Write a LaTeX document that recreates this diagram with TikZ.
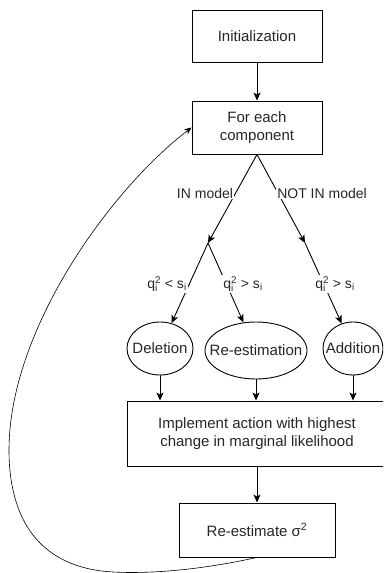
\documentclass[tikz,border=0pt]{standalone}
\usepackage{fontspec}
\setmainfont{Liberation Sans}
\usetikzlibrary{arrows.meta,shapes.geometric}
\newcommand{\nodefnt}{\fontsize{15}{18.5}\selectfont}
\newcommand{\lblfnt}{\fontsize{14}{17}\selectfont}
\newcommand{\qsq}{$\mathrm{q}_{\mathrm{i}}^{\mathrm{2}}$}
\begin{document}
\begin{tikzpicture}[x=1pt,y=-1pt,
  boxnode/.style={draw=black, line width=0.9pt, rectangle, align=center, inner sep=0pt, font=\nodefnt, text=black!85},
  ellnode/.style={draw=black, line width=0.9pt, ellipse, inner sep=0pt},
  ellabel/.style={font=\nodefnt, text=black!85, inner sep=0pt},
  arr/.style={-{Stealth[length=8pt,width=7pt,inset=2pt]}, line width=0.9pt},
  looparr/.style={-{Stealth[length=7pt,width=6pt,inset=2pt]}, line width=0.6pt},
  lbl/.style={fill=white, inner sep=1pt, font=\lblfnt, text=black!85}]
\clip (0,0) rectangle (383,573);
\node[boxnode, minimum width=130pt, minimum height=52pt] (init) at (257,36) {Initialization};
\node[boxnode, minimum width=130pt, minimum height=53pt] (each) at (257,127.5) {For each\\component};
\coordinate (jL) at (208,243);
\coordinate (jR) at (305,243);
\node[ellnode, minimum width=66pt, minimum height=53pt, label={[ellabel]center:Deletion}] (del) at (160,348.5) {};
\node[ellnode, minimum width=102pt, minimum height=57pt, label={[ellabel]center:Re-estimation}] (rest) at (256,350.5) {};
\node[ellnode, minimum width=60pt, minimum height=53pt, label={[ellabel]center:Addition}] (add) at (353,348.5) {};
\node[boxnode, minimum width=260pt, minimum height=65pt] (impl) at (257,433.5) {Implement action with highest\\change in marginal likelihood};
\node[boxnode, minimum width=156pt, minimum height=54pt] (sig) at (257,530) {Re-estimate σ\textsuperscript{2}};

\draw[arr] (init) -- (each);
\draw[arr] (each.south) -- (jL);
\draw[arr] (each.south) -- (jR);
\draw[arr] (jL) -- (del);
\draw[arr] (jL) -- (rest);
\draw[arr] (jR) -- (add);
\draw[arr] (del.south) -- (del.south |- impl.north);
\draw[arr] (rest.south) -- (rest.south |- impl.north);
\draw[arr] (add.south) -- (add.south |- impl.north);
\draw[arr] (impl) -- (sig);
\draw[looparr] (sig.south) .. controls (200,570) and (150,574) .. (113,572)
  .. controls (40,568) and (9,520) .. (9,450)
  .. controls (9,330) and (110,190) .. (each.west);

\node[lbl] (lin) at (205,193) {IN model};
\node[lbl] (lnot) at (322,193) {NOT IN model};
\node[lbl] (lq1) at (167,284) {\qsq{} < s$_{\mathrm{i}}$};
\node[lbl] (lq2) at (243,284) {\qsq{} > s$_{\mathrm{i}}$};
\node[lbl] (lq3) at (335,284) {\qsq{} > s$_{\mathrm{i}}$};
\end{tikzpicture}
\end{document}
